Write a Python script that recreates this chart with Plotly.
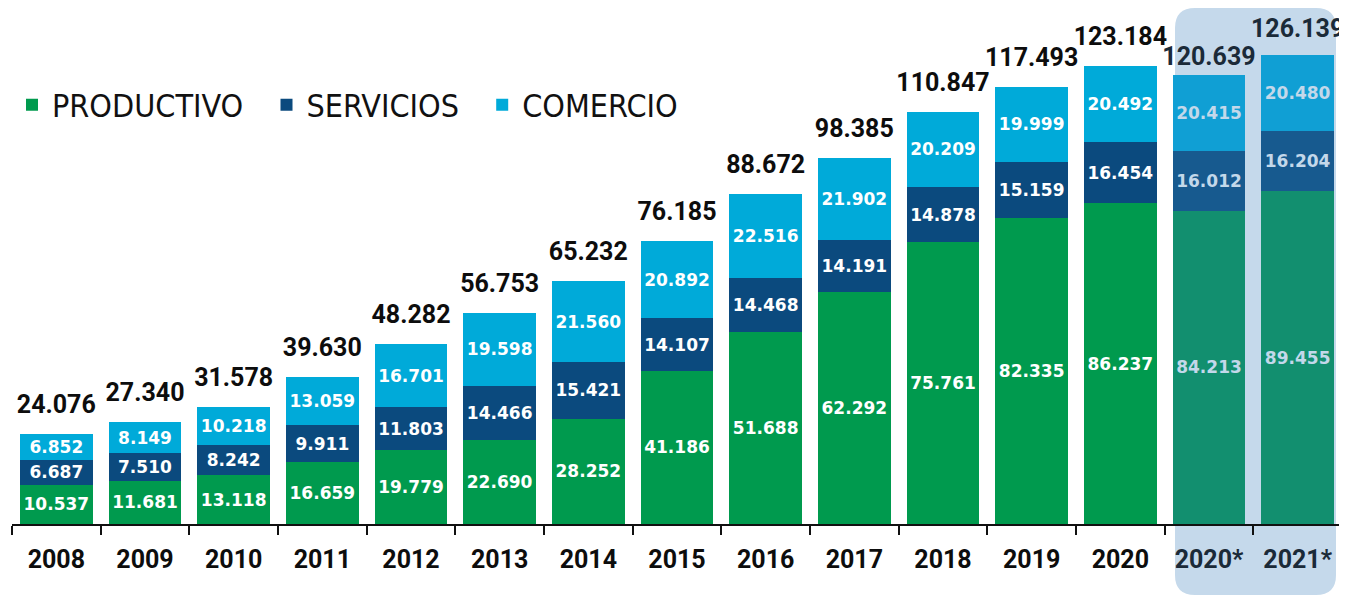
import plotly.graph_objects as go

years = ["2008", "2009", "2010", "2011", "2012", "2013", "2014", "2015",
         "2016", "2017", "2018", "2019", "2020", "2020*", "2021*"]
productivo = [10537, 11681, 13118, 16659, 19779, 22690, 28252, 41186,
              51688, 62292, 75761, 82335, 86237, 84213, 89455]
servicios = [6687, 7510, 8242, 9911, 11803, 14466, 15421, 14107,
             14468, 14191, 14878, 15159, 16454, 16012, 16204]
comercio = [6852, 8149, 10218, 13059, 16701, 19598, 21560, 20892,
            22516, 21902, 20209, 19999, 20492, 20415, 20480]
totales = [24076, 27340, 31578, 39630, 48282, 56753, 65232, 76185,
           88672, 98385, 110847, 117493, 123184, 120639, 126139]
proyectado = [False] * 13 + [True, True]


def fmt(v):
    return f"{v:,}".replace(",", ".")


SEG_FONT = "DejaVu Sans"
BIG_FONT = "Roboto"
LEG_FONT = "DejaVu Sans Condensed"

# page is drawn with the browser's default 8px body margin
W, H = 1339, 588
AXIS_Y = 516          # pixel row of the baseline inside the figure
TOP_BAR_PX = 469      # pixel height of the tallest bar
TOTAL_FS = 25

series = [
    ("PRODUCTIVO", productivo, "#009a4e", "#128f6f"),
    ("SERVICIOS", servicios, "#0b4a7e", "#175a8f"),
    ("COMERCIO", comercio, "#00aad9", "#109fd4"),
]

fig = go.Figure()
for name, vals, col, col_hi in series:
    fig.add_trace(go.Bar(
        name=name + "&nbsp;&nbsp;",
        x=years,
        y=vals,
        marker=dict(color=[col_hi if p else col for p in proyectado], line=dict(width=0)),
        text=[fmt(v) for v in vals],
        textposition="inside",
        insidetextanchor="middle",
        textangle=0,
        textfont=dict(family=SEG_FONT, size=17, weight="bold",
                      color=["#c3d8ea" if p else "#ffffff" for p in proyectado]),
        hoverinfo="skip",
    ))

# totals above each stack (invisible marker sets the gap between bar and label)
label_gap = {"2020*": 10, "2021*": 18}


def gap_to_size(g):
    return max((g - 1 - 0.25 * TOTAL_FS) / 0.625, 0.5)


fig.add_trace(go.Scatter(
    x=years, y=totales, mode="markers+text",
    text=[fmt(t) for t in totales], textposition="top center",
    marker=dict(size=[gap_to_size(label_gap.get(y, 21)) for y in years], opacity=0),
    textfont=dict(family=BIG_FONT, size=TOTAL_FS, weight="bold",
                  color=["#1b2a38" if p else "#0d0d0d" for p in proyectado]),
    cliponaxis=False, showlegend=False, hoverinfo="skip",
))

# highlight for projected years (rounded rectangle, paper coords)
plot_w = W - 4 - 5
x0, x1 = (1167 - 4) / plot_w, (1328 - 4) / plot_w
y0, y1 = (AXIS_Y - 587) / AXIS_Y, 1.0
rx, ry = 20 / plot_w, 20 / AXIS_Y
path = (f"M{x0+rx},{y0} L{x1-rx},{y0} Q{x1},{y0} {x1},{y0+ry} "
        f"L{x1},{y1-ry} Q{x1},{y1} {x1-rx},{y1} L{x0+rx},{y1} "
        f"Q{x0},{y1} {x0},{y1-ry} L{x0},{y0+ry} Q{x0},{y0} {x0+rx},{y0} Z")
fig.add_shape(type="path", path=path, xref="paper", yref="paper",
              fillcolor="#c5d9eb", line=dict(width=0), layer="below")

ticktext = [f"<span style='color:#1b2a38'>{y}</span>" if p else y
            for y, p in zip(years, proyectado)]

ymax = max(totales) * AXIS_Y / TOP_BAR_PX

fig.update_layout(
    width=W, height=H,
    margin=dict(l=4, r=5, t=0, b=H - AXIS_Y, autoexpand=False),
    paper_bgcolor="white", plot_bgcolor="rgba(0,0,0,0)",
    barmode="stack", bargap=0.177,
    uniformtext=dict(minsize=17, mode="show"),
    showlegend=True,
    legend=dict(orientation="h", x=0.0, xanchor="left",
                y=(AXIS_Y - 97) / AXIS_Y, yanchor="middle",
                traceorder="normal",
                font=dict(family=LEG_FONT, size=32, color="#111111"),
                bgcolor="rgba(0,0,0,0)", itemwidth=30),
    xaxis=dict(
        type="category", tickmode="array", tickvals=years, ticktext=ticktext,
        range=[-0.5, len(years) - 0.5],
        showline=True, linecolor="#111111", linewidth=2,
        ticks="outside", tickson="boundaries", ticklen=9, tickwidth=2, tickcolor="#111111",
        tickfont=dict(family=BIG_FONT, size=25, weight="bold", color="#0d0d0d"),
        ticklabelstandoff=12,
        showgrid=False, zeroline=False, fixedrange=True, automargin=False,
    ),
    yaxis=dict(visible=False, range=[0, ymax], showgrid=False, zeroline=False,
               fixedrange=True, automargin=False),
)

fig.write_html("out.html")
